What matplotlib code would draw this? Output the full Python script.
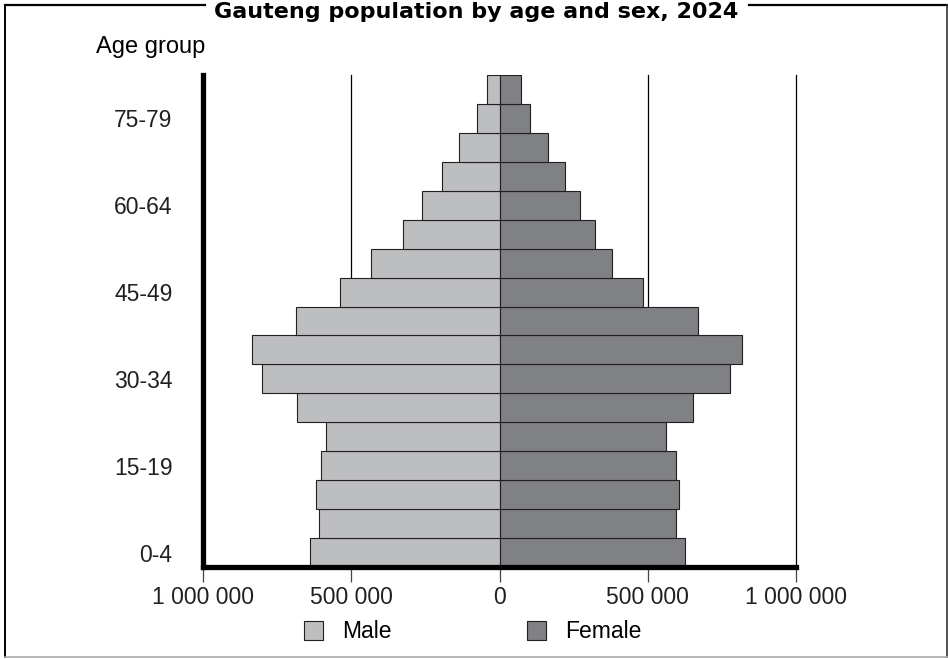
import matplotlib.pyplot as plt
from matplotlib.lines import Line2D
from matplotlib.patches import Patch

plt.rcParams['font.family'] = ['Liberation Sans', 'DejaVu Sans']

# data (people)
age_groups = ['0-4', '5-9', '10-14', '15-19', '20-24', '25-29', '30-34', '35-39', '40-44',
              '45-49', '50-54', '55-59', '60-64', '65-69', '70-74', '75-79', '80+']
male = [639000, 609000, 619000, 601000, 584000, 682000, 800000, 835000, 686000,
        538000, 433000, 326000, 262000, 195000, 136000, 75000, 43000]
female = [624000, 595000, 606000, 595000, 560000, 654000, 778000, 819000, 670000,
          484000, 378000, 322000, 272000, 221000, 162000, 102000, 73000]
x_ticks = [-1000000, -500000, 0, 500000, 1000000]
x_labels = ['1 000 000', '500 000', '0', '500 000', '1 000 000']
shown_groups = [0, 3, 6, 9, 12, 15]

male_col = '#bdbec0'
female_col = '#808184'
fs = 16.5

fig = plt.figure(figsize=(9.48, 6.59), dpi=100)
ax = fig.add_axes([203 / 948, 1 - 567 / 659, 593 / 948, 492 / 659])

y = list(range(len(age_groups)))
ax.barh(y, [-v for v in male], height=1.0, color=male_col, edgecolor='#231f20', linewidth=0.8, zorder=3)
ax.barh(y, female, height=1.0, color=female_col, edgecolor='#231f20', linewidth=0.8, zorder=3)

for xv in [-500000, 500000, 1000000]:
    ax.axvline(xv, color='black', linewidth=0.9, zorder=1, clip_on=False)

ax.set_xlim(-1000000, 1000000)
ax.set_ylim(-0.5, len(age_groups) - 0.5)

ax.spines['top'].set_visible(False)
ax.spines['right'].set_visible(False)
ax.spines['left'].set_linewidth(3.8)
ax.spines['bottom'].set_linewidth(3.8)
ax.spines['left'].set_zorder(5)
ax.spines['bottom'].set_zorder(5)

ax.set_xticks(x_ticks)
ax.set_xticklabels(x_labels, fontsize=fs, color='#231f20')
ax.tick_params(axis='x', length=11, width=0.9, color='#444444', pad=3)
ax.set_yticks(shown_groups)
ax.set_yticklabels([age_groups[i] for i in shown_groups], fontsize=fs, color='#231f20')
ax.tick_params(axis='y', length=0, pad=22)

fig.text(205 / 948, 1 - 47 / 659, 'Age group', fontsize=17, ha='right', va='center', color='black')

# title sitting in the frame line
fig.text(476 / 948, 1 - 18.5 / 659, 'Gauteng population by age and sex, 2024',
         fontsize=16, fontweight='bold', family='DejaVu Sans', ha='center', va='baseline')

# frame around the figure
top = 1 - 5 / 659
bot = 1 - 657 / 659
l, r = 4.5 / 948, 946.5 / 948
fig.add_artist(Line2D([l, 205 / 948], [top, top], color='black', lw=1.6))
fig.add_artist(Line2D([749 / 948, r], [top, top], color='black', lw=1.6))
fig.add_artist(Line2D([l, l], [top, bot], color='black', lw=1.4))
fig.add_artist(Line2D([r, r], [top, bot], color='#333333', lw=1.2))
fig.add_artist(Line2D([l, r], [bot, bot], color='#aaaaaa', lw=1.2))

handles = [Patch(facecolor=male_col, edgecolor='#231f20', linewidth=0.8),
           Patch(facecolor=female_col, edgecolor='#231f20', linewidth=0.8)]
fig.legend(handles, ['Male', 'Female'], loc='center left', bbox_to_anchor=(304 / 948, 1 - 632 / 659),
           ncol=2, frameon=False, fontsize=fs, borderpad=0, borderaxespad=0,
           handlelength=0.83, handleheight=0.87, handletextpad=0.83, columnspacing=5.9)

plt.savefig('out.png', dpi=100)
